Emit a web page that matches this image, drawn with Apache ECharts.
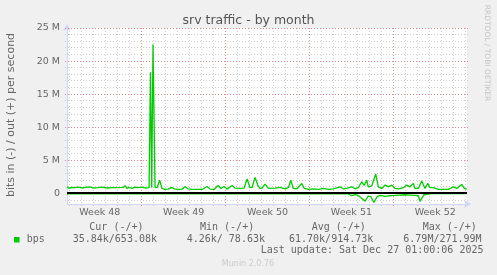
<!DOCTYPE html>
<html><head><meta charset="utf-8">
<script src="https://cdn.jsdelivr.net/npm/echarts@6/dist/echarts.min.js"></script>
<style>html,body{margin:0;padding:0;background:#F0F0F0;}#c{width:497px;height:275px;}</style>
</head><body><div id="c"></div>
<script>
// x = days relative to Mon 1 Dec 2025 00:00 ; values in Mbit/s
const outDays = [-6.24,-6.07,-5.82,-5.57,-5.32,-4.98,-4.73,-4.32,-4.07,-3.65,-3.31,-2.90,-2.48,-1.98,-1.56,-1.39,-1.23,-1.06,-0.81,-0.56,-0.31,0.03,0.28,0.61,0.73,0.83,0.94,1.11,1.28,1.49,1.69,1.94,2.20,2.50,2.70,3.03,3.36,3.61,3.86,4.20,4.62,5.03,5.45,5.70,6.04,6.37,6.62,6.87,7.12,7.54,7.79,8.21,8.54,8.79,9.04,9.21,9.46,9.67,9.87,10.04,10.29,10.57,11.13,11.54,11.96,12.24,12.44,12.65,12.94,13.36,13.57,13.91,14.32,14.74,15.16,15.58,15.99,16.55,16.83,17.11,17.53,17.80,18.08,18.36,18.56,18.78,18.91,19.20,19.33,19.53,19.75,20.03,20.31,20.58,20.87,21.14,21.42,21.84,22.12,22.40,22.67,22.81,23.09,23.37,23.65,23.87,24.07,24.34,24.76,25.18,25.59,26.01,26.29,26.71,26.93,27.13];
const outVals = [1.0,0.78,0.9,0.86,0.95,0.82,0.9,1.0,0.82,0.86,0.95,0.82,0.86,0.86,0.9,1.15,0.75,0.9,0.75,0.96,0.86,0.96,0.82,0.86,18.3,0.9,22.5,0.9,0.86,2.0,0.75,0.6,0.65,0.91,0.7,0.6,0.65,1.0,0.7,0.6,0.6,0.6,1.05,0.65,0.6,1.2,0.75,1.05,0.65,1.2,0.8,0.75,0.8,2.17,0.86,0.9,2.43,1.3,0.75,0.8,1.4,0.75,0.8,0.9,0.7,0.86,2.0,0.75,0.7,1.5,0.75,0.6,0.7,0.6,0.75,0.6,0.7,1.0,0.7,0.75,1.0,0.7,0.86,1.77,1.2,2.0,1.0,1.15,1.26,2.93,1.0,0.75,1.26,1.0,1.26,0.75,0.7,0.86,1.26,1.0,1.52,0.75,0.75,1.87,0.75,1.52,0.86,0.86,0.6,0.6,0.6,1.0,0.75,1.36,0.75,0.65];
const inDays = [-6.24,8.6,8.7,8.85,9.5,9.6,9.75,17.2,17.53,17.8,18.08,18.36,18.5,18.65,18.78,18.91,19.13,19.38,19.48,19.64,19.9,20.31,20.7,21.14,21.55,21.97,22.4,22.81,23.09,23.23,23.37,23.55,23.9,24.2,27.13];
const inVals = [0.05,0.05,0.15,0.04,0.05,0.25,0.04,0.05,0.35,0.2,0.3,0.75,1.0,1.17,0.77,0.4,0.5,1.37,1.42,0.5,0.3,0.45,0.35,0.3,0.25,0.2,0.25,0.3,0.35,1.2,1.0,0.2,0.1,0.04,0.04];
const weekPos = [-3.5,3.5,10.5,17.5,24.5];
const weekLabels = ['Week 48','Week 49','Week 50','Week 51','Week 52'];
const yLabelVals = [0,5,10,15,20,25];
const legendHeaders = ['Cur (-/+)','Min (-/+)','Avg (-/+)','Max (-/+)'];
const legendValues = ['35.84k/653.08k','4.26k/ 78.63k','61.70k/914.73k','6.79M/271.99M'];
const seriesName = 'bps';
const titleText = 'srv traffic - by month';
const yName = 'bits in (-) / out (+) per second';
const lastUpdate = 'Last update: Sat Dec 27 01:00:06 2025';
const muninVer = 'Munin 2.0.76';
const rrdText = 'RRDTOOL / TOBI OETIKER';

const xMin = -6.24, xMax = 27.15, yMin = -1.6, yMax = 25;
const GREEN = '#00CC00';
const MINOR = '#cdcdcd', MAJOR = '#e08a8a';

const dayTicks = [];
for (let d = Math.ceil(xMin); d <= xMax; d++) dayTicks.push(d);
const mTicks = [];
for (let v = Math.ceil(yMin); v <= yMax; v++) mTicks.push(v);

// grid lines: [orientation(0=vertical,1=horizontal), value]
const gridData = dayTicks.map(d => [0, d]).concat(mTicks.filter(v => v !== 0).map(v => [1, v]));

function renderGrid(params, api) {
  const dir = api.value(0), v = api.value(1);
  let shape;
  if (dir === 0) {
    const a = api.coord([v, yMin]), b = api.coord([v, yMax]);
    const x = Math.round(a[0] - 0.5) + 0.5;
    shape = {x1:x, y1:a[1]+2, x2:x, y2:b[1]-2};
  } else {
    const a = api.coord([xMin, v]), b = api.coord([xMax, v]);
    const y = Math.round(a[1] - 0.5) + 0.5;
    shape = {x1:a[0]-2, y1:y, x2:b[0]+2, y2:y};
  }
  const major = dir === 0 ? (Math.abs(v) % 7 === 0) : (Math.abs(v) % 5 === 0);
  return {type:'line', shape, silent:true, z2: major ? 2 : 1,
    style:{stroke: major ? MAJOR : MINOR, lineWidth:1, lineDash:[1,2]}};
}

function renderZero(params, api) {
  const a = api.coord([xMin, 0]), b = api.coord([xMax, 0]);
  const y = Math.round(a[1]);
  return {type:'line', shape:{x1:a[0], y1:y, x2:b[0], y2:y}, silent:true, style:{stroke:'#000', lineWidth:2}};
}

const chart = echarts.init(document.getElementById('c'), null, {renderer:'canvas'});
const mono = '10px "DejaVu Sans Mono"';
const graphics = [
  {type:'text', x:248.5, y:20.5, style:{text:titleText, font:'12.5px "DejaVu Sans"', fill:'#555', align:'center', verticalAlign:'middle'}},
  {type:'text', x:11.5, y:115, rotation:Math.PI/2, style:{text:yName, font:'11px "DejaVu Sans"', fill:'#666', align:'center', verticalAlign:'middle'}},
  {type:'text', x:487, y:53, rotation:-Math.PI/2, style:{text:rrdText, font:'7.5px "DejaVu Sans"', fill:'#c4c4c4', align:'center', verticalAlign:'middle'}},
  {type:'rect', shape:{x:14, y:237, width:5.5, height:5.5}, style:{fill:GREEN}},
  {type:'text', x:26.7, y:239.2, style:{text:seriesName, font:mono, fill:'#666', align:'left', verticalAlign:'middle'}},
  {type:'text', x:260.7, y:250.6, style:{text:lastUpdate, font:mono, fill:'#666', align:'left', verticalAlign:'middle'}},
  {type:'text', x:248, y:264, style:{text:muninVer, font:'8px "DejaVu Sans"', fill:'#cccccc', align:'center', verticalAlign:'middle'}}
];
const headerX = [89.3, 200, 311.7, 422.7];
const valueX = [72.7, 186.7, 289, 403.3];
legendHeaders.forEach((t,i)=>graphics.push({type:'text', x:headerX[i], y:227.6, style:{text:t, font:mono, fill:'#666', align:'left', verticalAlign:'middle'}}));
legendValues.forEach((t,i)=>graphics.push({type:'text', x:valueX[i], y:239.2, style:{text:t, font:mono, fill:'#666', align:'left', verticalAlign:'middle'}}));

chart.setOption({
  animation:false,
  backgroundColor:'#F0F0F0',
  grid:{left:67, top:28, width:400, height:176, show:true, backgroundColor:'#ffffff', borderWidth:0},
  xAxis:{type:'value', min:xMin, max:xMax,
    axisLine:{show:true, onZero:false, lineStyle:{color:'#CFD6F8', width:1}, symbol:['none','arrow'], symbolSize:[6,7], symbolOffset:[0,4]},
    axisTick:{show:false},
    axisLabel:{customValues:weekPos, formatter:(v)=>{const i=weekPos.findIndex(p=>Math.abs(p-v)<1e-6);return i>=0?weekLabels[i]:'';}, color:'#666', fontFamily:'DejaVu Sans', fontSize:9.5, margin:3, lineHeight:11},
    splitLine:{show:false}},
  yAxis:{type:'value', min:yMin, max:yMax,
    axisLine:{show:true, onZero:false, lineStyle:{color:'#CFD6F8', width:1}, symbol:['none','arrow'], symbolSize:[6,7], symbolOffset:[0,4]},
    axisTick:{show:false},
    axisLabel:{customValues:yLabelVals, formatter:(v)=>v===0?'0':(v+' M'), color:'#666', fontFamily:'DejaVu Sans', fontSize:9.5, margin:7},
    splitLine:{show:false}},
  graphic:graphics,
  series:[
    {type:'custom', data:gridData, renderItem:renderGrid, z:1, silent:true, clip:false, encode:{x:-1, y:-1}},
    {type:'line', name:'out', data:outDays.map((d,i)=>[d,outVals[i]]), showSymbol:false, z:3,
      lineStyle:{color:GREEN, width:1.3}, itemStyle:{color:GREEN}},
    {type:'line', name:'in', data:inDays.map((d,i)=>[d,-inVals[i]]), showSymbol:false, z:3,
      lineStyle:{color:GREEN, width:1.3}, itemStyle:{color:GREEN}},
    {type:'custom', data:[[0]], renderItem:renderZero, z:4, silent:true, encode:{x:-1, y:-1}}
  ]
});
</script></body></html>
